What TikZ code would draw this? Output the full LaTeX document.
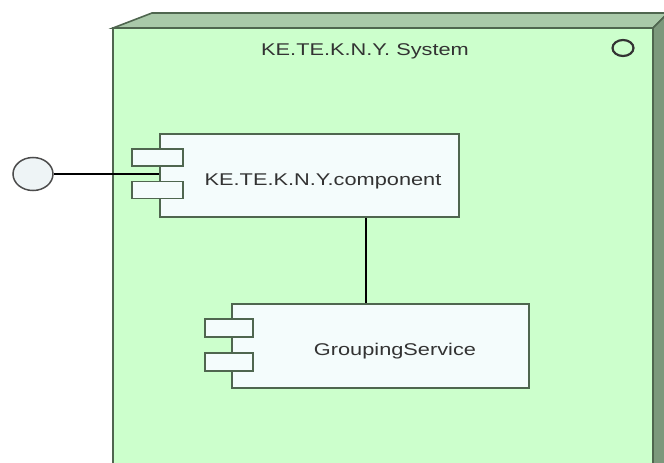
\documentclass[tikz,border=0pt]{standalone}
\usepackage{fontspec}
\setmainfont{Liberation Sans}
\usetikzlibrary{shapes.geometric}
\definecolor{nodefront}{HTML}{CCFFCC}
\definecolor{nodetop}{HTML}{A9C9A9}
\definecolor{nodeside}{HTML}{7C987C}
\definecolor{nodeline}{HTML}{4F664F}
\definecolor{compfill}{HTML}{F4FCFC}
\definecolor{ballfill}{HTML}{EEF4F6}
\newcommand{\widetext}[1]{\scalebox{1.28}[1]{#1}}
\begin{document}
\begin{tikzpicture}[x=1pt, y=-1pt,
    comp/.style={draw=nodeline, fill=compfill, line width=1.8pt, inner sep=0pt},
    port/.style={draw=nodeline, fill=compfill, line width=1.6pt, inner sep=0pt, minimum width=51pt, minimum height=17pt},
    lbl/.style={font=\fontsize{17}{19}\selectfont, text=black!80, anchor=base, inner sep=0pt}]
    \useasboundingbox (0,0) rectangle (664,463);

    % the node as a box
    \filldraw[fill=nodetop, draw=nodeline, line width=1.6pt] (113,28) -- (152,13) -- (668,13) -- (653,28) -- cycle;
    \filldraw[fill=nodeside, draw=nodeline, line width=1.6pt] (653,28) -- (668,13) -- (668,475) -- (653,475) -- cycle;
    \filldraw[fill=nodefront, draw=nodeline, line width=1.8pt] (113,28) rectangle (653,475);
    \node[lbl] (sysname) at (365,55) {\widetext{KE.TE.K.N.Y. System}};
    \draw[draw=black!80, line width=2.2pt] (623,48) ellipse (10.5pt and 8pt);

    % components
    \node[comp, minimum width=299pt, minimum height=83pt] (kcomp) at (309.5,175.5) {};
    \node[port] (kport1) at (157.5,157.5) {};
    \node[port] (kport2) at (157.5,190) {};
    \node[lbl] (kname) at (323,185) {\widetext{KE.TE.K.N.Y.component}};

    \node[comp, minimum width=297pt, minimum height=84pt] (gcomp) at (380.5,346) {};
    \node[port, minimum width=48pt, minimum height=18pt] (gport1) at (229,328) {};
    \node[port, minimum width=48pt, minimum height=18pt] (gport2) at (229,362) {};
    \node[lbl] (gname) at (395,355) {\widetext{GroupingService}};

    % interface and link
    \node[ellipse, draw=black!70, fill=ballfill, line width=1.5pt, minimum width=40pt, minimum height=33pt] (ball) at (33,174) {};
    \draw[line width=1.5pt] (ball.east) -- (ball.east -| kcomp.west);
    \coordinate (link) at (366,260);
    \draw[line width=1.5pt] (kcomp.south -| link) -- (gcomp.north -| link);
\end{tikzpicture}
\end{document}
